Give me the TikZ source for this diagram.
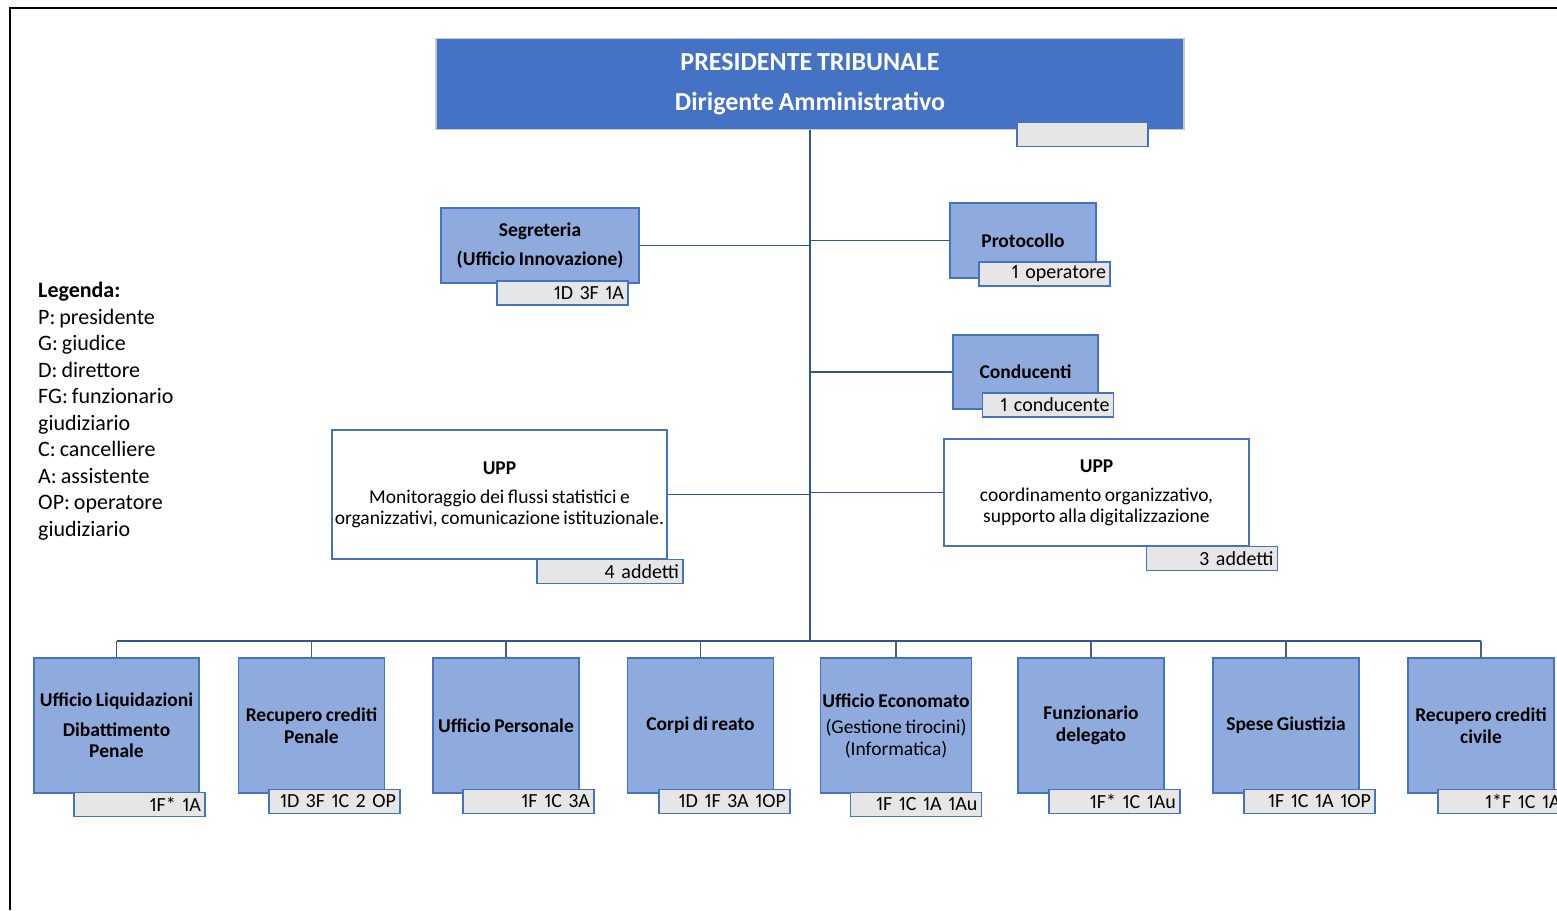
\documentclass[tikz,border=0pt]{standalone}
\usepackage{fontspec}
\setmainfont{Carlito}[WordSpace=0.8, Numbers=Proportional]
\usetikzlibrary{positioning}
\definecolor{topblue}{HTML}{4472C4}
\definecolor{boxblue}{HTML}{8FAADC}
\definecolor{edgeblue}{HTML}{4472C4}
\definecolor{linkblue}{HTML}{2F5597}
\definecolor{dropblue}{HTML}{4A5F86}
\definecolor{taggray}{HTML}{E7E6E6}
\definecolor{topedge}{HTML}{C8C8C8}

\begin{document}
\begin{tikzpicture}[x=1pt, y=-1pt,
    headbox/.style={draw=topedge, fill=topblue, line width=1.2pt, text=white, align=center, font=\fontsize{26}{28}\selectfont\bfseries},
    unitbox/.style={draw=edgeblue, fill=boxblue, line width=1.5pt, align=center, inner sep=2pt, font=\fontsize{19.5}{21.5}\selectfont\bfseries},
    uppbox/.style={draw=edgeblue, fill=white, line width=1.2pt, align=center, inner sep=2pt, font=\fontsize{19.5}{21}\selectfont},
    tagbox/.style={draw=edgeblue, fill=taggray, line width=1.2pt, minimum height=24pt, inner xsep=4pt, inner ysep=0pt, text width=#1, align=right, font=\fontsize{20}{22}\selectfont},
    tagbox/.default=123pt,
    link/.style={draw=linkblue, line width=1.8pt},
    drop/.style={draw=dropblue, line width=1.4pt},
]
  \useasboundingbox (0,0) rectangle (1557,910);
  \clip (0,0) rectangle (1557,910);
  % frame
  \draw[line width=2pt] (10,910) -- (10,8) -- (1557,8);

  % head
  \node[headbox, minimum width=748pt, minimum height=91pt] (top) at (810,84)
    {PRESIDENTE TRIBUNALE\\[12pt] Dirigente Amministrativo};
  \node[tagbox] (toptag) at (1082.5,134.5) {};

  % staff units
  \node[unitbox, minimum width=198pt, minimum height=75pt] (segr) at (540,245.5)
    {Segreteria\\[7pt](Ufficio Innovazione)};
  \node[tagbox] (segrtag) at (562.5,293) {1D 3F 1A};
  \node[unitbox, minimum width=146pt, minimum height=75pt] (prot) at (1023,240.5) {Protocollo};
  \node[tagbox] (prottag) at (1044.5,274) {1 operatore};
  \node[unitbox, minimum width=145pt, minimum height=74pt] (cond) at (1025.5,372) {Conducenti};
  \node[tagbox] (condtag) at (1048,405) {1 conducente};

  \node[uppbox, minimum width=335pt, minimum height=129pt] (uppl) at (499.5,494.5)
    {\textbf{UPP}\\[8pt] Monitoraggio dei flussi statistici e\\ organizzativi, comunicazione istituzionale.};
  \node[tagbox=138pt] (uppltag) at (610,571.5) {4 addetti};
  \node[uppbox, minimum width=305pt, minimum height=107pt] (uppr) at (1096.5,492.5)
    {\textbf{UPP}\\[8pt] coordinamento organizzativo,\\ supporto alla digitalizzazione};
  \node[tagbox] (upprtag) at (1212,558.5) {3 addetti};

  % legend
  \node[anchor=north west, inner sep=0pt, align=left, font=\fontsize{22}{26.5}\selectfont] (legenda) at (38,282)
    {\textbf{Legenda:}\\ P: presidente\\ G: giudice\\ D: direttore\\ FG: funzionario\\ giudiziario\\
     C: cancelliere\\ A: assistente\\ OP: operatore\\ giudiziario};

  % offices
  \node[unitbox, minimum width=165pt, minimum height=135pt] (liq) at (116.5,725.5)
    {Ufficio Liquidazioni\\[8pt] Dibattimento\\ Penale};
  \node[tagbox] (liqtag) at (139.5,804.5) {1F* 1A};
  \node[unitbox, minimum width=146pt, minimum height=135pt] (recp) at (311.5,725.5)
    {Recupero crediti\\ Penale};
  \node[tagbox] (recptag) at (334.5,801.5) {1D 3F 1C 2 OP};
  \node[unitbox, minimum width=146pt, minimum height=135pt] (pers) at (506,725.5) {Ufficio Personale};
  \node[tagbox] (perstag) at (528.5,801.5) {1F 1C 3A};
  \node[unitbox, minimum width=146pt, minimum height=135pt] (corpi) at (700.5,725.5) {Corpi di reato};
  \node[tagbox] (corpitag) at (724.5,801.5) {1D 1F 3A 1OP};
  \node[unitbox, minimum width=146pt, minimum height=135pt] (econ) at (896,725.5)
    {Ufficio Economato\\[5pt] \mdseries(Gestione tirocini)\\ \mdseries(Informatica)};
  \node[tagbox] (econtag) at (916,804.5) {1F 1C 1A 1Au};
  \node[unitbox, minimum width=146pt, minimum height=135pt] (funz) at (1091,725.5)
    {Funzionario\\ delegato};
  \node[tagbox] (funztag) at (1114.5,801.5) {1F* 1C 1Au};
  \node[unitbox, minimum width=146pt, minimum height=135pt] (spese) at (1286,725.5) {Spese Giustizia};
  \node[tagbox] (spesetag) at (1309.5,801.5) {1F 1C 1A 1OP};
  \node[unitbox, minimum width=146pt, minimum height=135pt] (recc) at (1481,725.5)
    {Recupero crediti\\ civile};
  \node[tagbox=156pt] (recctag) at (1520,801.5) {1*F 1C 1A 1OP};

  % connectors
  \coordinate (bus) at (810,641);
  \draw[link, line width=2.6pt] (top.south) -- (bus);
  \draw[link] (segr.east) -- (segr.east -| top.south);
  \draw[link] (prot.west) -- (prot.west -| top.south);
  \draw[link] (cond.west) -- (cond.west -| top.south);
  \draw[link] (uppl.east) -- (uppl.east -| top.south);
  \draw[link] (uppr.west) -- (uppr.west -| top.south);
  \draw[link] (liq.north |- bus) -- (recc.north |- bus);
  \foreach \u in {liq,recp,pers,corpi,econ,funz,spese,recc}
    \draw[drop] (\u.north) -- (\u.north |- bus);
\end{tikzpicture}
\end{document}
